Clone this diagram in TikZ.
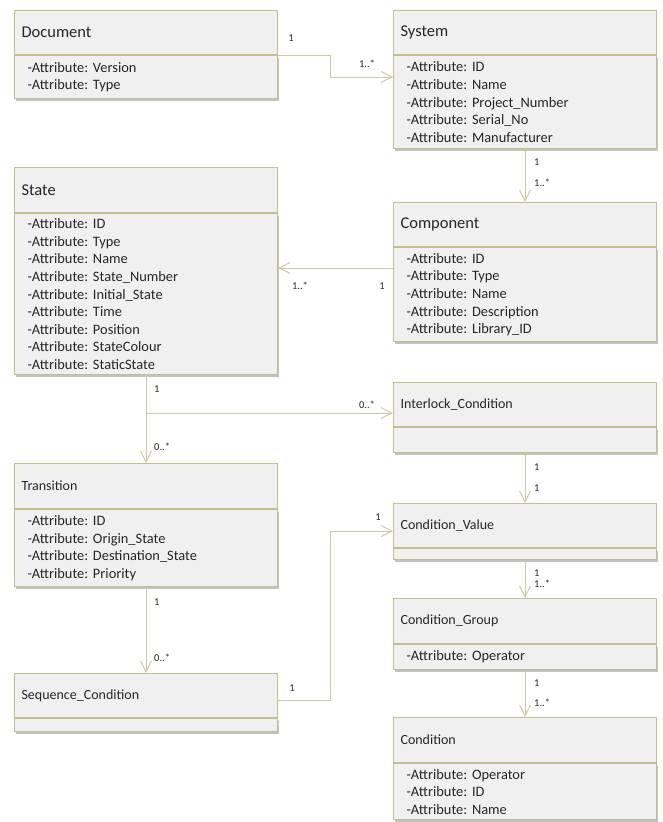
\documentclass[tikz,border=0pt]{standalone}
\usepackage{fontspec}
\setmainfont{Carlito}
\usetikzlibrary{arrows.meta,shadows}
\frenchspacing

\definecolor{umlborder}{RGB}{196,192,140}
\definecolor{umlline}{RGB}{206,202,160}
\definecolor{umlfill}{RGB}{240,240,240}

\tikzset{
  classhead/.style={draw=umlborder, fill=umlfill, line width=1.1pt, anchor=north west,
    text width=249pt, inner xsep=7pt, inner ysep=0pt, align=left, text=black!85},
  bighead/.style={classhead, font=\fontsize{16.5}{19}\selectfont},
  smallhead/.style={classhead, font=\fontsize{14}{17}\selectfont},
  classbody/.style={draw=umlborder, fill=umlfill, line width=1.1pt, anchor=north west,
    text width=237pt, inner xsep=13pt, inner ysep=0pt, align=left, text=black!85,
    font=\fontsize{14.4}{17.6}\selectfont,
    drop shadow={shadow xshift=1pt, shadow yshift=-2.5pt, fill=black!40, opacity=.6}},
  assoc/.style={draw=umlline, line width=1pt, -{Straight Barb[length=11pt,width=11pt]}},
  link/.style={draw=umlline, line width=1pt},
  mult/.style={font=\fontsize{10.5}{12}\selectfont, text=black!85, inner sep=1pt}
}

\begin{document}
\begin{tikzpicture}[x=1pt,y=-1pt]
  \useasboundingbox (0,0) rectangle (662,822);

  % left column
  \node[bighead, minimum height=44pt] (doc) at (14,10) {Document};
  \node[classbody, minimum height=43pt] (doc-a) at (doc.south west)
    {-Attribute: Version\\-Attribute: Type};

  \node[bighead, minimum height=45pt] (st) at (14,167) {State};
  \node[classbody, minimum height=161pt] (st-a) at (st.south west)
    {-Attribute: ID\\-Attribute: Type\\-Attribute: Name\\-Attribute: State\_Number\\
     -Attribute: Initial\_State\\-Attribute: Time\\-Attribute: Position\\
     -Attribute: StateColour\\-Attribute: StaticState};

  \node[smallhead, minimum height=45pt] (tr) at (14,463) {Transition};
  \node[classbody, minimum height=77pt] (tr-a) at (tr.south west)
    {-Attribute: ID\\-Attribute: Origin\_State\\-Attribute: Destination\_State\\
     -Attribute: Priority};

  \node[smallhead, minimum height=44pt] (sq) at (14,673) {Sequence\_Condition};
  \node[classbody, minimum height=13pt] (sq-a) at (sq.south west) {};

  % right column
  \node[bighead, minimum height=44pt] (sys) at (393,10) {System};
  \node[classbody, minimum height=93pt] (sys-a) at (sys.south west)
    {-Attribute: ID\\-Attribute: Name\\-Attribute: Project\_Number\\
     -Attribute: Serial\_No\\-Attribute: Manufacturer};

  \node[bighead, minimum height=44pt] (cmp) at (393,202) {Component};
  \node[classbody, minimum height=94pt] (cmp-a) at (cmp.south west)
    {-Attribute: ID\\-Attribute: Type\\-Attribute: Name\\-Attribute: Description\\
     -Attribute: Library\_ID};

  \node[smallhead, minimum height=44pt] (il) at (393,382) {Interlock\_Condition};
  \node[classbody, minimum height=25pt] (il-a) at (il.south west) {};

  \node[smallhead, minimum height=44pt] (cv) at (393,503) {Condition\_Value};
  \node[classbody, minimum height=11pt] (cv-a) at (cv.south west) {};

  \node[smallhead, minimum height=45pt] (cg) at (393,598) {Condition\_Group};
  \node[classbody, minimum height=25pt] (cg-a) at (cg.south west)
    {-Attribute: Operator};

  \node[smallhead, minimum height=45pt] (cn) at (393,717) {Condition};
  \node[classbody, minimum height=56pt] (cn-a) at (cn.south west)
    {-Attribute: Operator\\-Attribute: ID\\-Attribute: Name};

  % connectors
  \coordinate (j1) at (330,77);
  \draw[assoc] (doc.south east) -| (j1) -- (j1 -| sys-a.west);
  \draw[assoc] (sys-a.south) -- (cmp.north);
  \coordinate (c1) at (cmp-a.west |- 0,268);
  \draw[assoc] (c1) -- (c1 -| st-a.east);
  \draw[assoc] (st-a.south) -- (tr.north);
  \coordinate (br) at (st-a.south |- 0,413);
  \draw[assoc] (br) -- (br -| il.west);
  \draw[assoc] (il-a.south) -- (cv.north);
  \draw[assoc] (cv-a.south) -- (cg.north);
  \draw[assoc] (cg-a.south) -- (cn.north);
  \draw[assoc] (tr-a.south) -- (sq.north);
  \coordinate (s1) at (sq.east |- 0,700);
  \coordinate (s2) at (330,531);
  \draw[assoc] (s1) -| (s2) -- (s2 -| cv.west);

  % multiplicities
  \node[mult] (m1) at (291,38) {1};
  \node[mult] (m2) at (367,64) {1..*};
  \node[mult, anchor=west] (m3) at (533,162) {1};
  \node[mult, anchor=west] (m4) at (533,183) {1..*};
  \node[mult] (m5) at (300,286) {1..*};
  \node[mult] (m6) at (382,286) {1};
  \node[mult, anchor=west] (m7) at (153,389) {1};
  \node[mult] (m8) at (367,405) {0..*};
  \node[mult, anchor=west] (m9) at (153,447) {0..*};
  \node[mult, anchor=west] (m10) at (533,467) {1};
  \node[mult, anchor=west] (m11) at (533,488) {1};
  \node[mult, anchor=west] (m12) at (533,573) {1};
  \node[mult, anchor=west] (m13) at (533,584) {1..*};
  \node[mult, anchor=west] (m14) at (533,683) {1};
  \node[mult, anchor=west] (m15) at (533,703) {1..*};
  \node[mult, anchor=west] (m16) at (153,602) {1};
  \node[mult, anchor=west] (m17) at (153,658) {0..*};
  \node[mult] (m18) at (292,688) {1};
  \node[mult] (m19) at (378,517) {1};
\end{tikzpicture}
\end{document}
